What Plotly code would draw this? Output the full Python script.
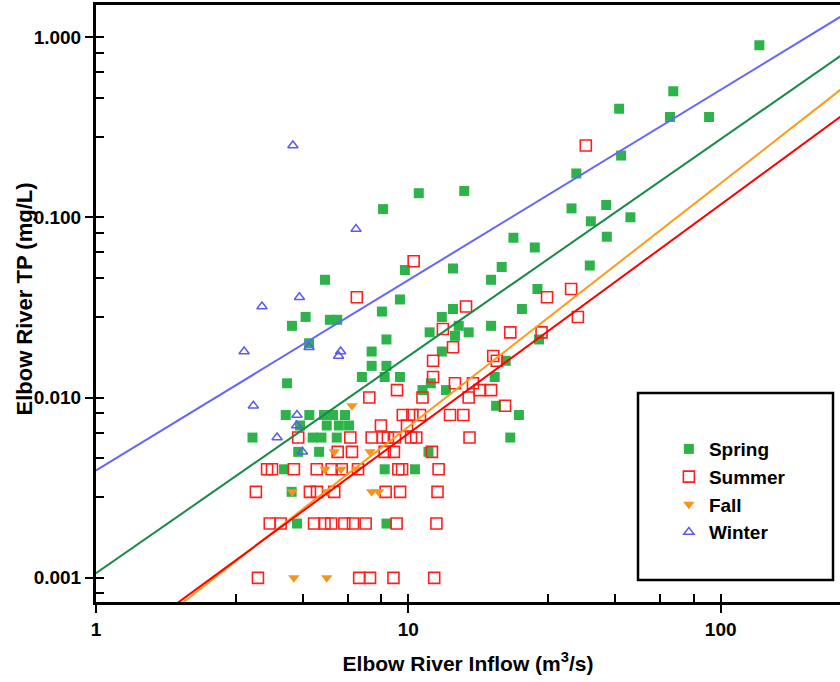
import numpy as np
import plotly.graph_objects as go

# ---------------- data ----------------
spring_x = [133, 70.5, 47.3, 68.8, 91.8, 48.0, 34.5, 33.3, 43.0, 38.4, 51.4, 43.2, 38.1,
            15.1, 10.8, 8.3,
            13.9, 19.9, 18.4, 25.9, 13.9, 23.1, 12.8, 18.4, 14.5, 15.6, 14.1, 12.8, 26.2, 20.5, 18.9, 13.2, 19.1, 22.6,
            9.75, 25.4, 21.7, 9.4, 11.7, 9.4, 11.8, 11.1, 21.2,
            5.41, 4.24, 4.69, 5.61, 5.92, 4.81, 8.23, 8.51, 7.63, 7.63, 8.51, 7.1, 8.4, 4.09,
            4.05, 4.82, 5.37, 5.74, 6.27,
            4.5, 5.48, 5.99, 6.46,
            3.17, 4.94, 5.27, 5.9,
            4.44, 5.18,
            4.0, 8.4, 10.5,
            4.23,
            4.4, 8.51,
            11.6]
spring_y = [0.90, 0.50, 0.40, 0.36, 0.36, 0.22, 0.175, 0.112, 0.117, 0.095, 0.10, 0.078, 0.054,
            0.14, 0.136, 0.111,
            0.052, 0.053, 0.045, 0.040, 0.031, 0.031, 0.028, 0.025, 0.025, 0.023, 0.022, 0.018, 0.021, 0.016, 0.013, 0.011, 0.009, 0.008,
            0.051, 0.068, 0.077, 0.035, 0.023, 0.013, 0.012, 0.011, 0.006,
            0.045, 0.025, 0.028, 0.027, 0.027, 0.020, 0.030, 0.021, 0.018, 0.015, 0.015, 0.013, 0.013, 0.012,
            0.008, 0.008, 0.008, 0.008, 0.008,
            0.007, 0.007, 0.007, 0.007,
            0.006, 0.006, 0.006, 0.006,
            0.005, 0.005,
            0.004, 0.004, 0.004,
            0.003,
            0.002, 0.002,
            0.005]

summer_x = [37.0, 10.4, 33.2, 27.8, 6.84, 15.3, 34.9, 12.9, 21.2, 26.7, 13.9, 18.7, 12.0, 19.2,
            12.0, 14.1, 16.1, 9.2, 16.9, 18.4, 7.5, 11.1, 15.6, 20.4,
            9.6, 10.3, 10.9, 13.6, 15.0,
            8.17, 9.9,
            4.44, 6.52, 7.63, 8.29, 8.6, 9.06, 10.2, 10.6, 15.7,
            5.94, 6.6, 8.4, 8.99, 11.9,
            3.53, 3.66, 4.3, 5.09, 5.68, 6.12, 6.9, 9.29, 9.55, 12.5,
            3.25, 4.84, 5.1, 5.79, 8.46, 9.41, 12.4,
            3.6, 3.9, 4.99, 5.39, 5.66, 6.24, 6.65, 7.3, 9.17, 12.3,
            3.3, 6.96, 7.54, 8.96, 12.1]
summer_y = [0.25, 0.057, 0.040, 0.036, 0.036, 0.032, 0.028, 0.024, 0.023, 0.023, 0.019, 0.017, 0.016, 0.016,
            0.013, 0.012, 0.012, 0.011, 0.011, 0.011, 0.010, 0.010, 0.010, 0.009,
            0.008, 0.008, 0.008, 0.008, 0.008,
            0.007, 0.007,
            0.006, 0.006, 0.006, 0.006, 0.006, 0.006, 0.006, 0.006, 0.006,
            0.005, 0.005, 0.005, 0.005, 0.005,
            0.004, 0.004, 0.004, 0.004, 0.004, 0.004, 0.004, 0.004, 0.004, 0.004,
            0.003, 0.003, 0.003, 0.003, 0.003, 0.003, 0.003,
            0.002, 0.002, 0.002, 0.002, 0.002, 0.002, 0.002, 0.002, 0.002, 0.002,
            0.001, 0.001, 0.001, 0.001, 0.001]

fall_x = [6.6, 5.79, 7.54, 5.41, 6.08, 6.84, 4.25, 5.5, 7.63, 8.03, 4.3, 5.48]
fall_y = [0.009, 0.005, 0.005, 0.004, 0.004, 0.004, 0.003, 0.003, 0.003, 0.003, 0.001, 0.001]

winter_x = [4.27, 6.8, 4.48, 3.4, 2.98, 4.81, 6.07, 5.98, 3.19, 4.4, 4.39, 3.8, 4.58]
winter_y = [0.25, 0.086, 0.036, 0.032, 0.018, 0.019, 0.018, 0.017, 0.009, 0.008, 0.007, 0.006, 0.005]

# power-law regression fits  TP = a * Q^b
fit_spring = (0.00106, 1.204)
fit_summer = (0.000338, 1.271)
fit_fall = (0.000307, 1.351)
fit_winter = (0.00394, 1.056)

x_major = [1, 10, 100]
x_major_text = ["1", "10", "100"]
x_minor = [2.8, 4.6, 6.4, 8.2, 28, 46, 64, 82]
y_major = [0.001, 0.01, 0.1, 1.0]
y_major_text = ["0.001", "0.010", "0.100", "1.000"]
y_minor = [0.00082, 0.0028, 0.0046, 0.0064, 0.0082, 0.028, 0.046, 0.064, 0.082,
           0.28, 0.46, 0.64, 0.82]

X_TITLE = "Elbow River Inflow (m<sup>3</sup>/s)"
Y_TITLE = "Elbow River TP (mg/L)"

X_RANGE = [0.0, 2.382]
Y_RANGE = [-3.134, 0.1775]

# ---------------- styles ----------------
C_SPRING = "#2DB34A"
C_SUMMER = "#FF1E1E"
C_FALL = "#F7941D"
C_WINTER = "#5A5AF5"
L_SPRING = "#188A48"
L_SUMMER = "#FF0000"
L_FALL = "#FF9A1A"
L_WINTER = "#6464FF"
FONT = "Liberation Sans, Arial, Helvetica, sans-serif"

fig = go.Figure()
fig.add_trace(go.Scatter(x=spring_x, y=spring_y, mode="markers", name="Spring",
                         marker=dict(symbol="square", size=10, color=C_SPRING,
                                     line=dict(width=0))))
fig.add_trace(go.Scatter(x=summer_x, y=summer_y, mode="markers", name="Summer",
                         marker=dict(symbol="square-open", size=11, color=C_SUMMER,
                                     line=dict(width=1.6, color=C_SUMMER))))
fig.add_trace(go.Scatter(x=fall_x, y=fall_y, mode="markers", name="Fall",
                         marker=dict(symbol="triangle-down", size=10, color=C_FALL,
                                     line=dict(width=0))))
fig.add_trace(go.Scatter(x=winter_x, y=winter_y, mode="markers", name="Winter",
                         marker=dict(symbol="triangle-up-open", size=9, color=C_WINTER,
                                     line=dict(width=1.5, color=C_WINTER))))

xline = np.logspace(X_RANGE[0], X_RANGE[1] + 0.05, 60)
for (a, b), col in [(fit_winter, L_WINTER), (fit_spring, L_SPRING),
                    (fit_fall, L_FALL), (fit_summer, L_SUMMER)]:
    fig.add_trace(go.Scatter(x=xline, y=a * xline ** b, mode="lines",
                             line=dict(color=col, width=2), showlegend=False,
                             hoverinfo="skip"))

# invisible trace so the overlay axes (inside halves of the crossing major ticks) are drawn
fig.add_trace(go.Scatter(x=[1], y=[1], xaxis="x2", yaxis="y2", mode="markers",
                         marker=dict(opacity=0), showlegend=False, hoverinfo="skip"))

tickfont = dict(family=FONT, size=19, color="black", weight="bold")

fig.update_layout(
    width=840, height=682,
    margin=dict(l=96, r=0, t=5, b=80),
    paper_bgcolor="white", plot_bgcolor="white",
    showlegend=True,
    xaxis=dict(type="log", range=X_RANGE, showgrid=False, zeroline=False,
               showline=True, linecolor="black", linewidth=3, mirror=True,
               ticks="outside", ticklen=8, tickwidth=2, tickcolor="black",
               tickmode="array", tickvals=x_major, ticktext=x_major_text,
               tickfont=tickfont,
               minor=dict(tickmode="array", tickvals=x_minor, ticks="inside",
                          ticklen=8, tickwidth=1.5, tickcolor="black", showgrid=False),
               title=dict(text=X_TITLE,
                          font=dict(family=FONT, size=21, color="black", weight="bold"),
                          standoff=18)),
    yaxis=dict(type="log", range=Y_RANGE, showgrid=False, zeroline=False,
               showline=True, linecolor="black", linewidth=3, mirror=False,
               ticks="outside", ticklen=8, tickwidth=2, tickcolor="black",
               tickmode="array", tickvals=y_major, ticktext=y_major_text,
               tickfont=tickfont,
               minor=dict(tickmode="array", tickvals=y_minor, ticks="inside",
                          ticklen=8, tickwidth=1.5, tickcolor="black", showgrid=False)),
    xaxis2=dict(type="log", range=X_RANGE, overlaying="x", anchor="y", side="bottom",
                showgrid=False, zeroline=False, showline=False, showticklabels=False,
                ticks="inside", ticklen=8, tickwidth=2, tickcolor="black",
                tickmode="array", tickvals=x_major),
    yaxis2=dict(type="log", range=Y_RANGE, overlaying="y", anchor="x", side="left",
                showgrid=False, zeroline=False, showline=False, showticklabels=False,
                ticks="inside", ticklen=8, tickwidth=2, tickcolor="black",
                tickmode="array", tickvals=y_major),
    legend=dict(x=0.770, y=0.288, xanchor="left", yanchor="top",
                bgcolor="rgba(0,0,0,0)", borderwidth=0,
                font=dict(family=FONT, size=19, color="black", weight="bold"),
                tracegroupgap=0, itemwidth=30),
    annotations=[dict(text=Y_TITLE, xref="paper", yref="paper",
                      x=-0.0965, y=0.507, xanchor="center", yanchor="middle",
                      textangle=-90, showarrow=False,
                      font=dict(family=FONT, size=22, color="black", weight="bold"))],
    shapes=[dict(type="rect", xref="paper", yref="paper",
                 x0=0.7285, x1=0.9906, y0=0.037, y1=0.350,
                 line=dict(color="black", width=2.5), fillcolor="rgba(0,0,0,0)",
                 layer="above")],
)

fig.write_html("out.html")
